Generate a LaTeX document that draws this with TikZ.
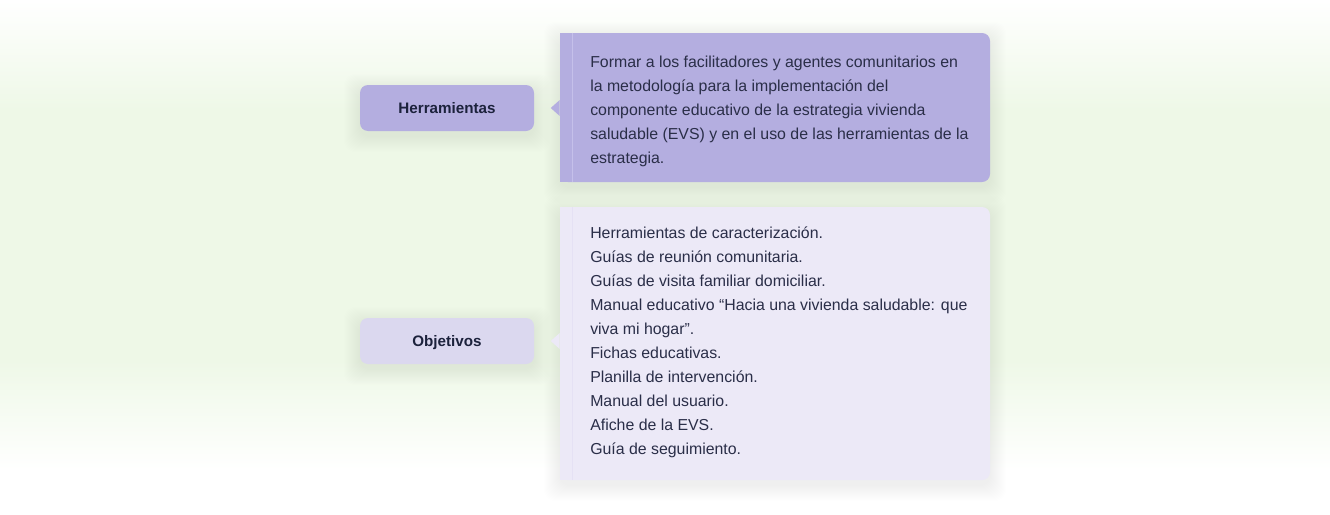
\documentclass[tikz,border=0pt]{standalone}
\usepackage{fontspec}
\setmainfont{Liberation Sans}
\usetikzlibrary{backgrounds}

\definecolor{lila}{RGB}{180,174,224}
\definecolor{lilaraya}{RGB}{197,192,234}
\definecolor{lilaclaro}{RGB}{219,216,239}
\definecolor{lilafondo}{RGB}{236,233,247}
\definecolor{lilafondoraya}{RGB}{229,225,244}
\definecolor{verde}{RGB}{238,248,231}
\definecolor{tinta}{RGB}{42,46,72}
\definecolor{tintaosc}{RGB}{28,34,60}

% sombra difusa bajo un nodo
\newcommand{\sombrear}[1]{%
  \foreach \r in {1,...,16}
    \fill[black,opacity=0.0055,rounded corners=9pt]
      ([shift={(-\r,-\r+5)}]#1.north west) rectangle ([shift={(\r,\r+5)}]#1.south east);}

\tikzset{
  etiqueta/.style={rounded corners=6pt,minimum width=130.5pt,minimum height=34.5pt,
    text height=8.6pt,text depth=0pt,
    font=\fontsize{11.4}{13}\selectfont\bfseries,text=tintaosc},
  globo/.style={rounded corners=6pt,minimum width=322.5pt,inner sep=0pt},
  linea/.style={anchor=base west,inner sep=0pt,font=\fontsize{11.9}{18}\selectfont,text=tinta}
}

\begin{document}
\begin{tikzpicture}[x=0.75pt,y=-0.75pt]
\useasboundingbox (0,0) rectangle (1330,514);

% globos
\node[globo,fill=lila,minimum height=111.75pt] (gsup) at (775,107.5) {};
\node[globo,fill=lilafondo,minimum height=204.75pt] (ginf) at (775,343.5) {};
\fill[lila] (gsup.north west) rectangle ([xshift=15pt]gsup.south west);
\fill[lilafondo] (ginf.north west) rectangle ([xshift=15pt]ginf.south west);
\draw[lilaraya] ([xshift=9.75pt]gsup.north west) -- ([xshift=9.75pt]gsup.south west);
\draw[lilafondoraya] ([xshift=9.75pt]ginf.north west) -- ([xshift=9.75pt]ginf.south west);

% etiquetas
\node[etiqueta,fill=lila] (herr) at (447,108) {Herramientas};
\node[etiqueta,fill=lilaclaro] (obj) at (447,341) {Objetivos};

% puntas
\coordinate (psup) at (gsup.west |- herr.east);
\coordinate (pinf) at (ginf.west |- obj.east);
\fill[lila] (psup) ++(0,-8) -- ++(-9,8) -- ++(9,8) -- cycle;
\fill[lilafondo] (pinf) ++(0,-8) -- ++(-9,8) -- ++(9,8) -- cycle;

\foreach \i/\txt in {0/Formar a los facilitadores y agentes comunitarios en,
  1/la metodología para la implementación del,
  2/componente educativo de la estrategia vivienda,
  3/saludable (EVS) y en el uso de las herramientas de la,
  4/estrategia.}
\node[linea] (s\i) at (590,{67.5+24*\i}) {\txt};

\foreach \i/\txt in {0/Herramientas de caracterización.,
  1/Guías de reunión comunitaria.,
  2/Guías de visita familiar domiciliar.,
  3/Manual educativo “Hacia una vivienda saludable: que,
  4/viva mi hogar”.,
  5/Fichas educativas.,
  6/Planilla de intervención.,
  7/Manual del usuario.,
  8/Afiche de la EVS.,
  9/Guía de seguimiento.}
\node[linea] (i\i) at (590,{238.5+24*\i}) {\txt};

% fondo y sombras
\begin{scope}[on background layer]
\fill[white] (0,0) rectangle (1330,514);
\fill[verde] (0,109) rectangle (1330,361);
\shade[top color=white,bottom color=verde] (0,0) rectangle (1330,110);
\shade[top color=verde,bottom color=white] (0,360) rectangle (1330,470);
\foreach \n in {gsup,ginf,herr,obj}{\sombrear{\n}}
\end{scope}
\end{tikzpicture}
\end{document}
